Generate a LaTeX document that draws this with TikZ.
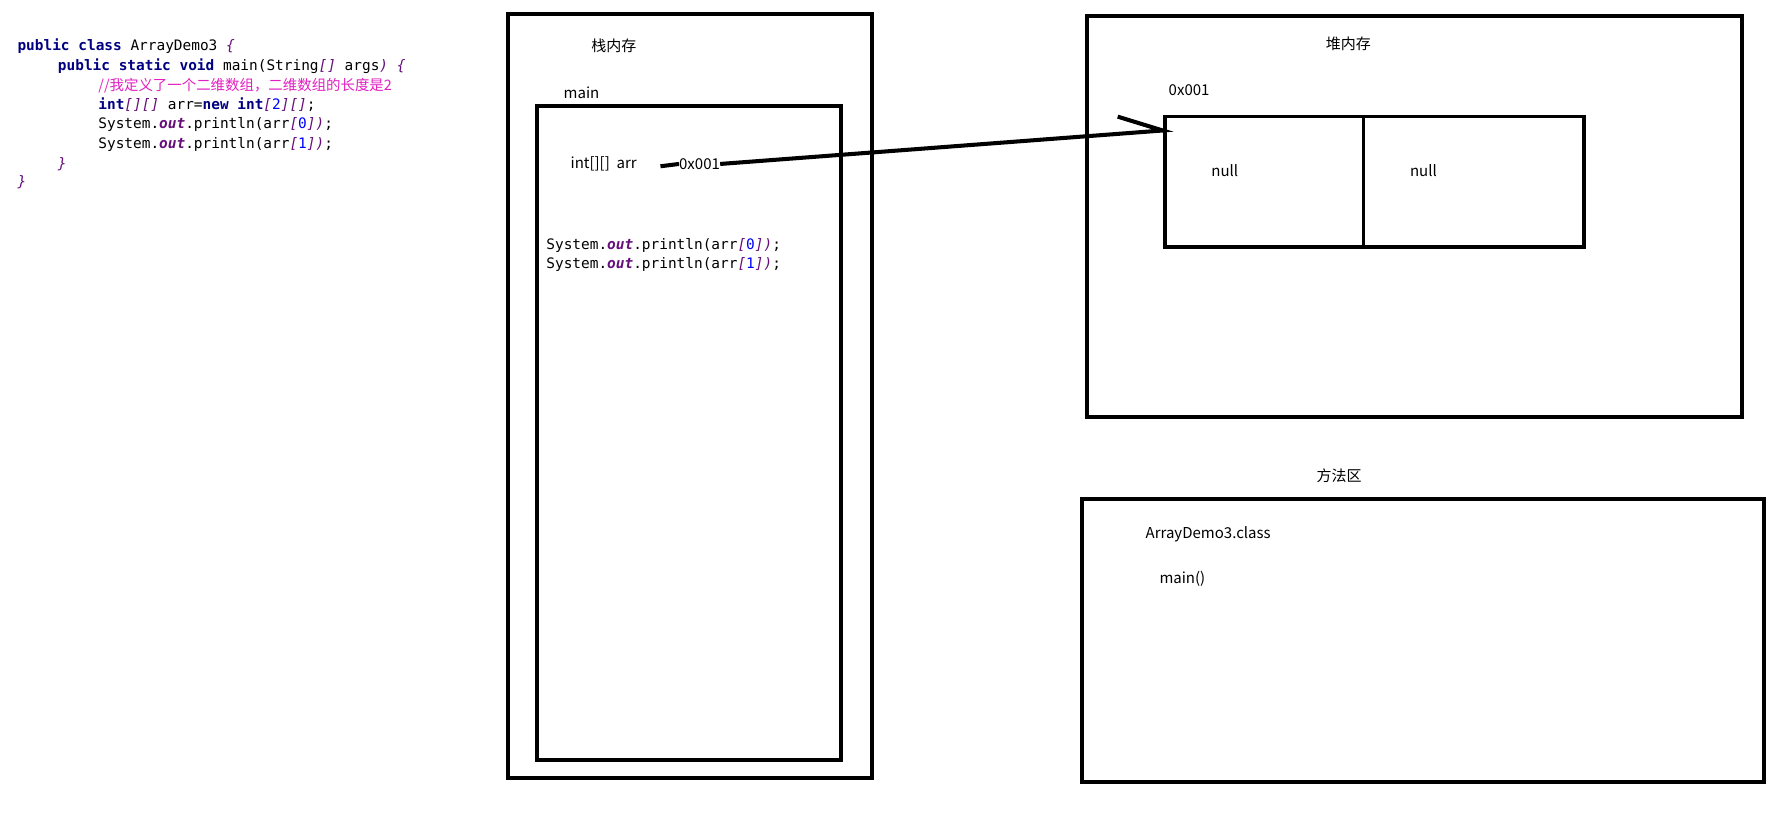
\documentclass[tikz,border=0pt]{standalone}
\usepackage{fontspec}
\setmainfont{Noto Sans CJK SC}
\setmonofont{DejaVu Sans Mono}
\usepackage{xcolor}
\usetikzlibrary{positioning}
\definecolor{kw}{HTML}{000080}
\definecolor{cmt}{HTML}{E020C0}
\definecolor{fld}{HTML}{660E7A}
\definecolor{num}{HTML}{0000FF}
\tikzset{
  area/.style={draw, line width=3.5pt},
  cell/.style={draw, line width=3pt},
  lbl/.style={anchor=west, font=\fontsize{13}{15}\selectfont, inner sep=0pt},
  code/.style={anchor=west, font=\ttfamily\fontsize{12.5}{15}\selectfont, inner sep=0pt},
  ref/.style={line width=3.5pt}
}
\newcommand{\kwd}[1]{\textcolor{kw}{\textbf{#1}}}
\newcommand{\fl}[1]{\textcolor{fld}{\textbf{\textit{#1}}}}
\newcommand{\br}[1]{\textcolor{fld}{\textit{#1}}}
\begin{document}
\begin{tikzpicture}[x=1pt, y=-1pt]
\useasboundingbox (0,0) rectangle (1552,710);
% source code
\node[code] (c1) at (15,40) {\kwd{public} \kwd{class} ArrayDemo3 \br{\{}};
\node[code] (c2) at (50,57) {\kwd{public} \kwd{static} \kwd{void} main(String\br{[]} args\br{)} \br{\{}};
\node[code] (c3) at (85,74) {\textcolor{cmt}{\rmfamily //我定义了一个二维数组，二维数组的长度是2}};
\node[code] (c4) at (85,91) {\kwd{int}\br{[][]} arr=\kwd{new} \kwd{int}\br{[}\textcolor{num}{2}\br{][]};};
\node[code] (c5) at (85,108) {System.\fl{out}.println(arr\br{[}\textcolor{num}{0}\br{])};};
\node[code] (c6) at (85,125) {System.\fl{out}.println(arr\br{[}\textcolor{num}{1}\br{])};};
\node[code] (c7) at (50,142) {\br{\}}};
\node[code] (c8) at (15,158) {\br{\}}};
% stack
\draw[area] (440,12) rectangle (755,674);
\node[lbl] (stack) at (512,40) {栈内存};
\node[lbl] (main) at (488,80) {main};
\draw[area] (465,92) rectangle (728,658);
\node[lbl] (var) at (494,142) {int[][]\ \ arr};
\node[lbl] (addr) at (588,142) {0x001};
\draw[ref] (572,144) -- (addr.west);
\node[code] (p1) at (473,213) {System.\fl{out}.println(arr\br{[}\textcolor{num}{0}\br{])};};
\node[code] (p2) at (473,229) {System.\fl{out}.println(arr\br{[}\textcolor{num}{1}\br{])};};
% heap
\draw[area] (941,14) rectangle (1509,361);
\node[lbl] (heap) at (1148,38) {堆内存};
\node[lbl] (haddr) at (1012,78) {0x001};
\draw[cell] (1009,101) rectangle (1181,214);
\draw[cell] (1181,101) rectangle (1372,214);
\node[lbl] (n1) at (1049,148) {null};
\node[lbl] (n2) at (1221,148) {null};
\coordinate (tip) at (1007,113);
\coordinate (barb) at (968,101);
\draw[ref] (addr.east) -- (tip) -- (barb);
% method area
\node[lbl] (meth) at (1140,412) {方法区};
\draw[area] (937,432) rectangle (1528,677);
\node[lbl] (cls) at (992,463) {ArrayDemo3.class};
\node[lbl] (mm) at (1004,501) {main()};
\end{tikzpicture}
\end{document}
